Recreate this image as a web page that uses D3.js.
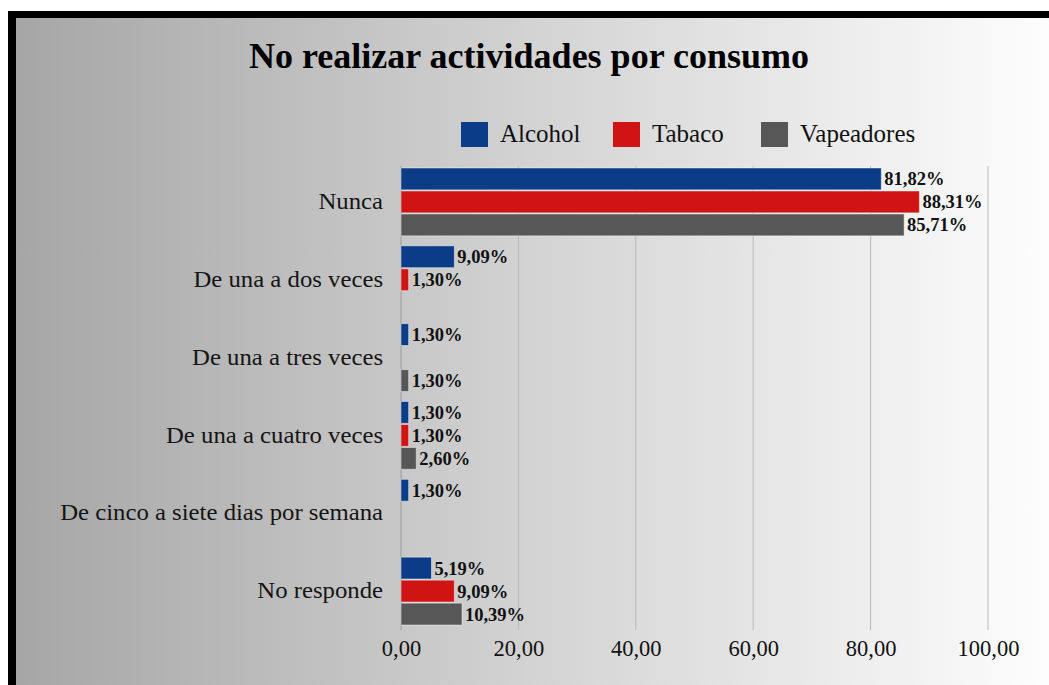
<!DOCTYPE html>
<html><head><meta charset="utf-8">
<script src="https://cdn.jsdelivr.net/npm/d3@7"></script>
<style>html,body{margin:0;padding:0;background:#fff;}svg{display:block;}</style>
</head><body>
<svg id="c" width="1049" height="685"></svg>
<script>
const categories = ["Nunca","De una a dos veces","De una a tres veces","De una a cuatro veces","De cinco a siete dias por semana","No responde"];
const seriesNames = ["Alcohol","Tabaco","Vapeadores"];
const alcohol = [81.82, 9.09, 1.30, 1.30, 1.30, 5.19];
const tabaco = [88.31, 1.30, null, 1.30, null, 9.09];
const vapeadores = [85.71, null, 1.30, 2.60, null, 10.39];
const xTicks = [0,20,40,60,80,100];
const colors = ["#0b3c87","#d01414","#575757"];
const seriesValues = [alcohol, tabaco, vapeadores];

const svg = d3.select("#c");
const defs = svg.append("defs");
const grad = defs.append("linearGradient").attr("id","bg").attr("x1","0%").attr("x2","100%").attr("y1","0%").attr("y2","0%");
grad.append("stop").attr("offset","0%").attr("stop-color","#a6a6a6");
grad.append("stop").attr("offset","50%").attr("stop-color","#d3d3d3");
grad.append("stop").attr("offset","100%").attr("stop-color","#fdfdfd");

svg.append("rect").attr("x",8).attr("y",11).attr("width",1041).attr("height",674).attr("fill","#000");
svg.append("rect").attr("x",16).attr("y",18).attr("width",1033).attr("height",667).attr("fill","url(#bg)");

const serif = "'Liberation Serif','Times New Roman',serif";

svg.append("text").attr("x",529).attr("y",68).attr("text-anchor","middle")
  .attr("font-family",serif).attr("font-weight","bold").attr("font-size",36).attr("fill","#000")
  .text("No realizar actividades por consumo");

const x = d3.scaleLinear().domain([0,100]).range([401,988]);
const y0 = d3.scaleBand().domain(categories).range([163,630]);
const y1 = d3.scaleBand().domain(seriesNames).range([5, y0.bandwidth()-5]).paddingInner(0.05);

// gridlines
const grid = svg.append("g");
grid.selectAll("line").data(xTicks.slice(1)).join("line")
  .attr("x1",d=>x(d)).attr("x2",d=>x(d)).attr("y1",166).attr("y2",630)
  .attr("stroke","#b9b9b9").attr("stroke-width",1);
svg.append("line").attr("x1",x(0)).attr("x2",x(0)).attr("y1",166).attr("y2",630).attr("stroke","#9a9a9a");

// x axis labels
const xAxis = d3.axisBottom(x).tickValues(xTicks).tickSize(0).tickPadding(0)
  .tickFormat(d=>d3.format(".2f")(d).replace(".",","));
const gx = svg.append("g").attr("transform","translate(0,656)").call(xAxis);
gx.select(".domain").remove();
gx.selectAll("text").attr("font-family",serif).attr("font-size",22.5).attr("fill","#111").attr("dy",0);

// y category labels (slightly widened like the reference)
const stretch = 1.1;
const yAxis = d3.axisLeft(y0).tickSize(0).tickPadding(18);
const gy = svg.append("g").attr("transform",`translate(${x(0)},0)`).call(yAxis);
gy.select(".domain").remove();
gy.selectAll("text").attr("font-family",serif).attr("font-size",22.5).attr("fill","#151515")
  .attr("x",-18/stretch).attr("transform",`scale(${stretch},1)`);

// bars
const groups = svg.append("g").selectAll("g").data(categories).join("g")
  .attr("transform",d=>`translate(0,${y0(d)})`);
const cells = groups.selectAll("g").data((c,i)=>seriesNames.map((s,j)=>({s,j,v:seriesValues[j][i]})).filter(d=>d.v!=null)).join("g");
cells.append("rect").attr("x",x(0)).attr("y",d=>y1(d.s)).attr("width",d=>x(d.v)-x(0)).attr("height",y1.bandwidth())
  .attr("fill",d=>colors[d.j]).attr("stroke","rgba(255,255,255,0.45)").attr("stroke-width",1);
cells.append("text").attr("x",d=>x(d.v)+3).attr("y",d=>y1(d.s)+y1.bandwidth()/2).attr("dy","0.35em")
  .attr("font-family",serif).attr("font-weight","bold").attr("font-size",18.5).attr("fill","#111")
  .text(d=>d3.format(".2f")(d.v).replace(".",",")+"%");

// legend
const legX = [461,613,761];
const leg = svg.append("g").selectAll("g").data(seriesNames).join("g");
leg.append("rect").attr("x",(d,i)=>legX[i]).attr("y",122).attr("width",27).attr("height",25)
  .attr("fill",(d,i)=>colors[i]);
leg.append("text").attr("x",(d,i)=>legX[i]+39).attr("y",142)
  .attr("font-family",serif).attr("font-size",25).attr("fill","#111").text(d=>d);
</script>
</body></html>
